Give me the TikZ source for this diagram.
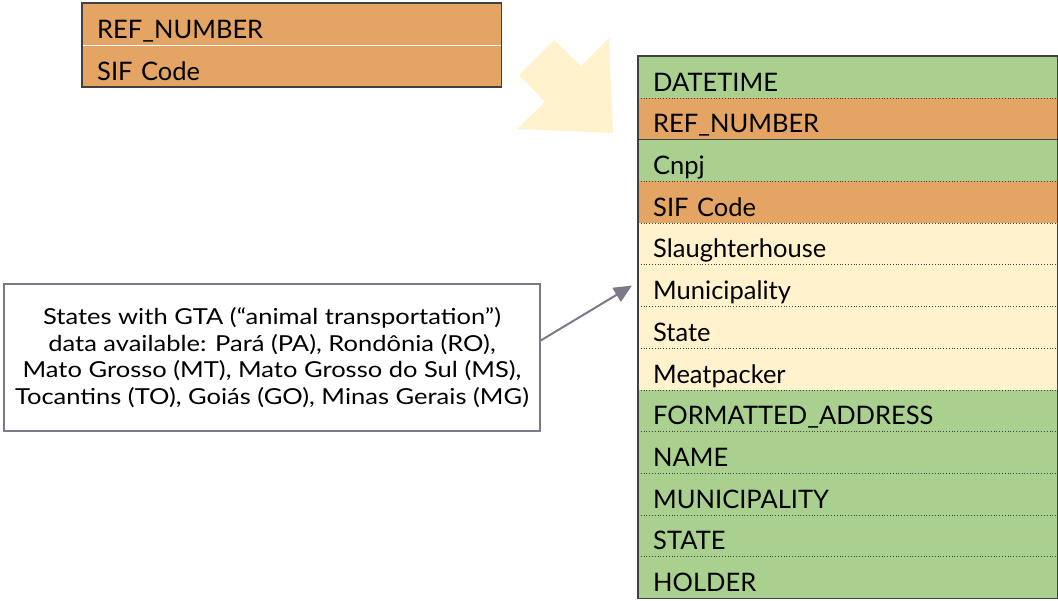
\documentclass[tikz,border=0pt]{standalone}
\usepackage{fontspec}
\setmainfont{Lato}
\newfontfamily\notefont[FakeStretch=1.16]{Lato}
\usetikzlibrary{arrows.meta}

\definecolor{fieldgreen}{HTML}{A9D08E}
\definecolor{fieldorange}{HTML}{E4A464}
\definecolor{fieldcream}{HTML}{FFF2CC}
\definecolor{noteline}{HTML}{7E7888}
\definecolor{tableline}{HTML}{404040}

\tikzset{
  field/.style={rectangle, anchor=north west, inner xsep=15pt, inner ysep=0pt,
    text width=389pt, text height=35pt, text depth=6.7pt, align=left,
    font=\fontsize{25.5}{28}\selectfont},
  notebox/.style={rectangle, draw=noteline, line width=1.5pt, align=center,
    minimum width=536pt, minimum height=147pt,
    font=\notefont\fontsize{22}{26.6}\selectfont}
}

\begin{document}
\begin{tikzpicture}[x=1pt,y=-1pt]
\useasboundingbox (0,0) rectangle (1058,601);

% input fields
\node[field, fill=fieldorange] (in1) at (82,3) {REF\_NUMBER};
\node[field, fill=fieldorange] (in2) at (82,45) {SIF Code};
\draw[white, line width=1pt] (in1.south west) -- (in1.south east);
\draw[tableline, line width=1.5pt] (in1.north west) rectangle (in2.south east);

% merge arrow
\fill[fieldcream] (554,40) -- (581,66) -- (609,38) -- (613,133)
  -- (517,129) -- (545,102) -- (519,75) -- cycle;

% output table
\foreach \lbl/\fc [count=\i] in {DATETIME/fieldgreen, REF\_NUMBER/fieldorange,
    Cnpj/fieldgreen, SIF Code/fieldorange, Slaughterhouse/fieldcream,
    Municipality/fieldcream, State/fieldcream, Meatpacker/fieldcream,
    FORMATTED\_ADDRESS/fieldgreen, NAME/fieldgreen, MUNICIPALITY/fieldgreen,
    STATE/fieldgreen, HOLDER/fieldgreen}
  \node[field, fill=\fc] (r\i) at (638,{56+41.7*(\i-1)}) {\lbl};
\foreach \i in {1,3,4,...,12}
  \draw[tableline, line width=0.8pt, dotted] (r\i.south west) -- (r\i.south east);
\draw[tableline, line width=1pt] (r2.south west) -- (r2.south east);
\draw[tableline, line width=1.5pt] (r1.north west) rectangle (r13.south east);

% note
\node[notebox] (gta) at (272,357.5) {States with GTA (“animal transportation”)\\
  data available: Pará (PA), Rondônia (RO),\\
  Mato Grosso (MT), Mato Grosso do Sul (MS),\\
  Tocantins (TO), Goiás (GO), Minas Gerais (MG)};
\draw[noteline, line width=2pt, -{Triangle[length=18pt,width=16pt]}]
  ([yshift=17pt]gta.east) -- ([xshift=-6pt]r6.west);
\end{tikzpicture}
\end{document}
